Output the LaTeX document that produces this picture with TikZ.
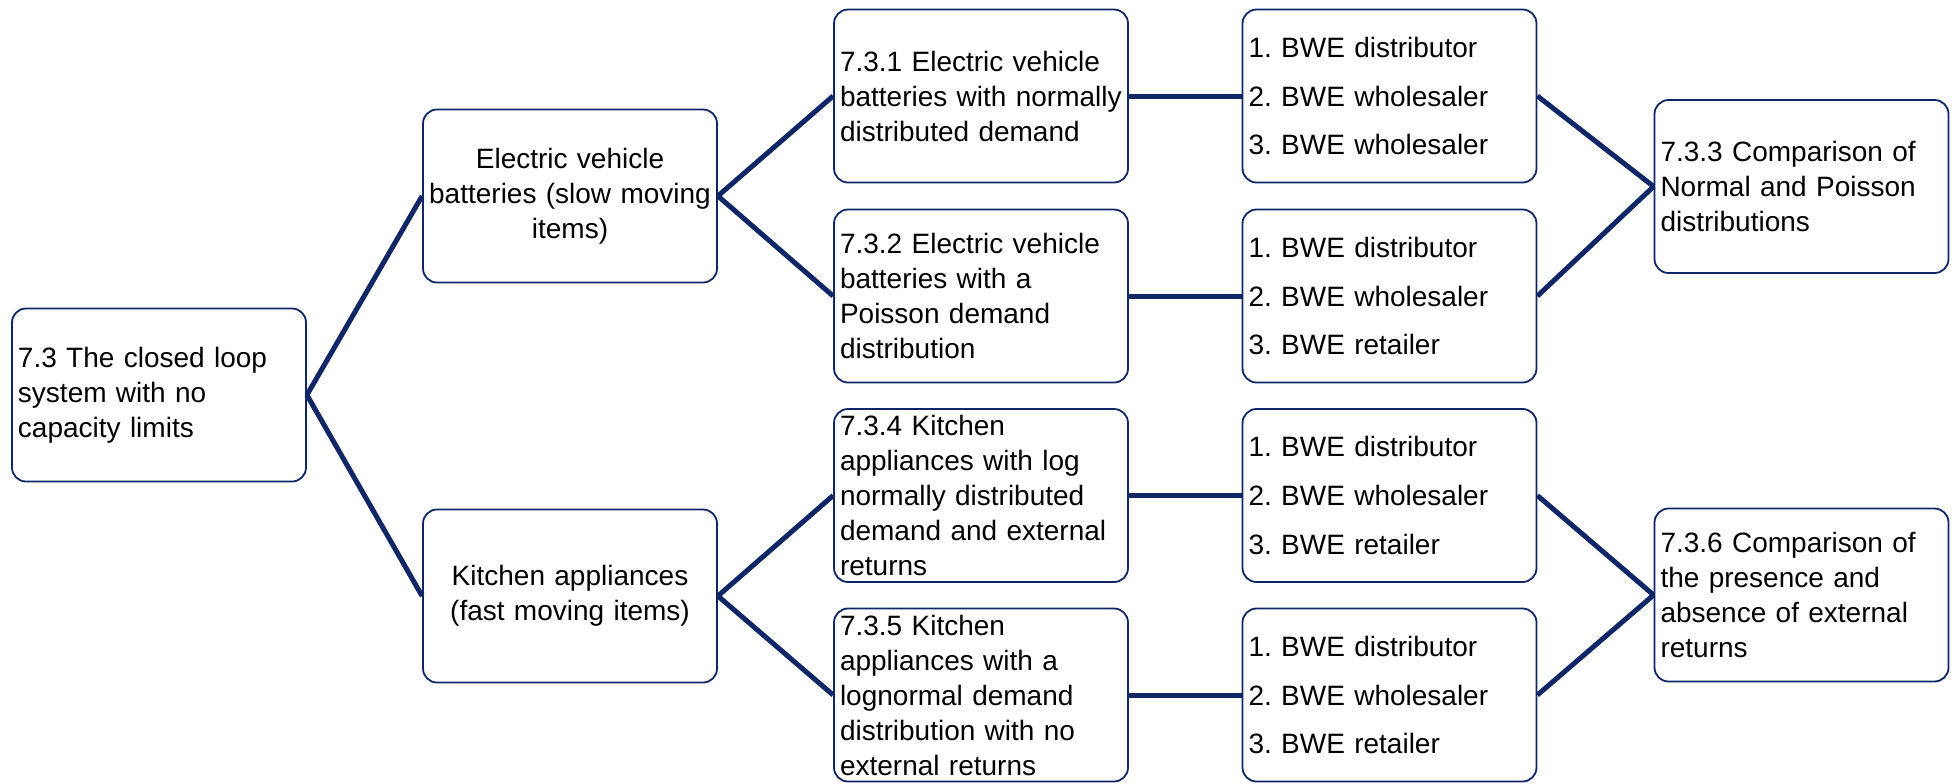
\documentclass[tikz,border=0pt]{standalone}
\usepackage{fontspec}
\setmainfont{Liberation Sans}
\frenchspacing
\definecolor{navy}{RGB}{16,38,102}
\begin{document}
\begin{tikzpicture}[x=0.5pt,y=-0.5pt,
  box/.style={draw=navy, line width=0.9pt, rounded corners=7pt, fill=white,
    minimum height=86.5pt, inner xsep=3pt, inner ysep=0pt, text width=141pt,
    font=\fontsize{14}{17.5}\selectfont},
  lbox/.style={box, align=left},
  cbox/.style={box, align=center},
  lst/.style={box, align=left, font=\fontsize{14}{24.3}\selectfont},
  link/.style={draw=navy, line width=2.5pt}]
\useasboundingbox (0,0) rectangle (1957,783);

% root
\node[lbox] (root) at (159,395) {7.3 The closed loop\\system with no\\capacity limits};

% item groups
\node[cbox] (ev) at (570,196) {Electric vehicle\\batteries (slow moving\\items)};
\node[cbox] (ka) at (570,596) {Kitchen appliances\\(fast moving items)};

% demand scenarios
\node[lbox] (s1) at (981,96) {7.3.1 Electric vehicle\\batteries with normally\\distributed demand};
\node[lbox] (s2) at (981,296) {7.3.2 Electric vehicle\\batteries with a\\Poisson demand\\distribution};
\node[lbox] (s4) at (981,495.5) {7.3.4 Kitchen\\appliances with log\\normally distributed\\demand and external\\returns};
\node[lbox] (s5) at (981,695) {7.3.5 Kitchen\\appliances with a\\lognormal demand\\distribution with no\\external returns};

% echelon lists
\node[lst] (l1) at (1389.5,96) {1. BWE distributor\\2. BWE wholesaler\\3. BWE wholesaler};
\node[lst] (l2) at (1389.5,296) {1. BWE distributor\\2. BWE wholesaler\\3. BWE retailer};
\node[lst] (l4) at (1389.5,495.5) {1. BWE distributor\\2. BWE wholesaler\\3. BWE retailer};
\node[lst] (l5) at (1389.5,695) {1. BWE distributor\\2. BWE wholesaler\\3. BWE retailer};

% comparisons
\node[lbox] (c3) at (1801.5,186.5) {7.3.3 Comparison of\\Normal and Poisson\\distributions};
\node[lbox] (c6) at (1801.5,595) {7.3.6 Comparison of\\the presence and\\absence of external\\returns};

% connectors
\draw[link] (root.east) -- (ev.west);
\draw[link] (root.east) -- (ka.west);
\draw[link] (ev.east) -- (s1.west);
\draw[link] (ev.east) -- (s2.west);
\draw[link] (ka.east) -- (s4.west);
\draw[link] (ka.east) -- (s5.west);
\draw[link] (s1.east) -- (l1.west);
\draw[link] (s2.east) -- (l2.west);
\draw[link] (s4.east) -- (l4.west);
\draw[link] (s5.east) -- (l5.west);
\draw[link] (l1.east) -- (c3.west);
\draw[link] (l2.east) -- (c3.west);
\draw[link] (l4.east) -- (c6.west);
\draw[link] (l5.east) -- (c6.west);
\end{tikzpicture}
\end{document}
